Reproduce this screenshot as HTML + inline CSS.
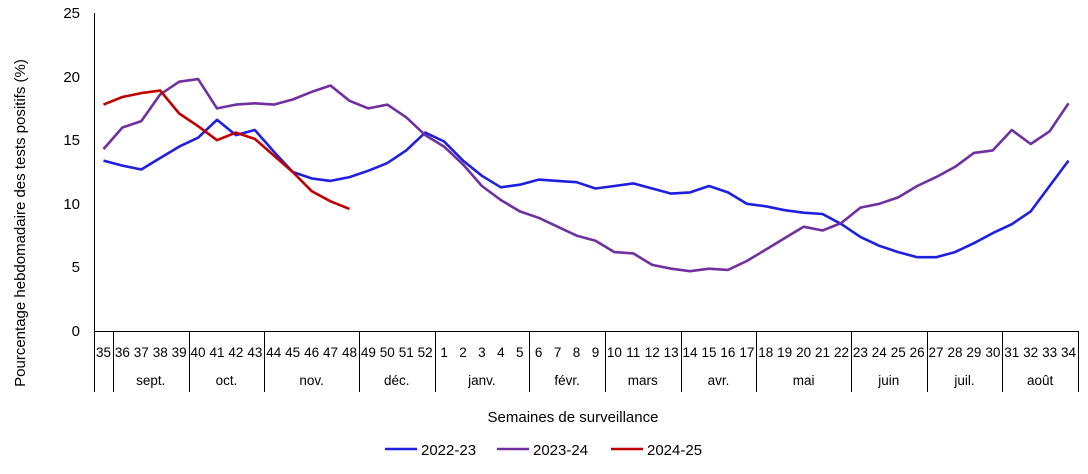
<!DOCTYPE html>
<html><head><meta charset="utf-8"><style>
body{margin:0;background:#fff;}
svg text{font-family:"Liberation Sans",sans-serif;fill:#000;}
</style></head><body>
<svg id="s" width="1088" height="469" xmlns="http://www.w3.org/2000/svg">
<line x1="94.5" y1="13" x2="94.5" y2="332" stroke="#000" stroke-width="1"/>
<line x1="94" y1="331.5" x2="1078" y2="331.5" stroke="#000" stroke-width="1"/>
<g font-size="15" text-anchor="end">
<text x="80" y="18">25</text><text x="80" y="82">20</text><text x="80" y="145">15</text>
<text x="80" y="209">10</text><text x="80" y="272">5</text><text x="80" y="336">0</text>
</g>
<g id="xl" font-size="13.5" text-anchor="middle"></g>
<g id="sep" stroke="#000" stroke-width="1"></g>
<g id="lines" fill="none" stroke-width="2.6" stroke-linejoin="round"></g>
<text x="573" y="422" font-size="15" text-anchor="middle">Semaines de surveillance</text>
<text transform="translate(25,223) rotate(-90)" font-size="15" text-anchor="middle">Pourcentage hebdomadaire des tests positifs (%)</text>
<line x1="385" y1="449" x2="417" y2="449" stroke="#1f1fe0" stroke-width="2.6"/>
<text x="421" y="455" font-size="15">2022-23</text>
<line x1="497" y1="449" x2="529" y2="449" stroke="#7030a0" stroke-width="2.6"/>
<text x="533" y="455" font-size="15">2023-24</text>
<line x1="611" y1="449" x2="643" y2="449" stroke="#c00000" stroke-width="2.6"/>
<text x="647" y="455" font-size="15">2024-25</text>
</svg>
<script>
var NS="http://www.w3.org/2000/svg",w=(1078-94)/52;
function X(i){return 94+w*(i+0.5);}
function Y(v){return 331-v*12.72;}
var weeks=[];for(var k=35;k<=52;k++)weeks.push(k);for(k=1;k<=34;k++)weeks.push(k);
var xl=document.getElementById("xl");
weeks.forEach(function(wk,i){var t=document.createElementNS(NS,"text");t.setAttribute("x",X(i));t.setAttribute("y",357);t.textContent=wk;xl.appendChild(t);});
var b=[0,1,5,9,14,18,23,27,31,35,40,44,48,52],m=["","sept.","oct.","nov.","déc.","janv.","févr.","mars","avr.","mai","juin","juil.","août"];
var sep=document.getElementById("sep");
b.forEach(function(j,n){var x=Math.round(94+w*j)+0.5;var l=document.createElementNS(NS,"line");l.setAttribute("x1",x);l.setAttribute("x2",x);l.setAttribute("y1",331);l.setAttribute("y2",392);sep.appendChild(l);
if(n>0&&m[n-1]!==undefined&&n-1>0){}
});
for(var n=1;n<b.length-1;n++){var t=document.createElementNS(NS,"text");t.setAttribute("x",94+w*(b[n]+b[n+1])/2);t.setAttribute("y",385);t.textContent=m[n];xl.appendChild(t);}
var d={
"#1f1fe0":[13.4,13.0,12.7,13.6,14.5,15.2,16.6,15.4,15.8,14.1,12.5,12.0,11.8,12.1,12.6,13.2,14.2,15.6,14.9,13.4,12.2,11.3,11.5,11.9,11.8,11.7,11.2,11.4,11.6,11.2,10.8,10.9,11.4,10.9,10.0,9.8,9.5,9.3,9.2,8.4,7.4,6.7,6.2,5.8,5.8,6.2,6.9,7.7,8.4,9.4,11.4,13.4],
"#7030a0":[14.3,16.0,16.5,18.6,19.6,19.8,17.5,17.8,17.9,17.8,18.2,18.8,19.3,18.1,17.5,17.8,16.8,15.4,14.5,13.1,11.4,10.3,9.4,8.9,8.2,7.5,7.1,6.2,6.1,5.2,4.9,4.7,4.9,4.8,5.5,6.4,7.3,8.2,7.9,8.5,9.7,10.0,10.5,11.4,12.1,12.9,14.0,14.2,15.8,14.7,15.7,17.9],
"#c00000":[17.8,18.4,18.7,18.9,17.1,16.1,15.0,15.6,15.1,13.8,12.5,11.0,10.2,9.6]};
var g=document.getElementById("lines");
for(var c in d){var p=document.createElementNS(NS,"polyline");p.setAttribute("stroke",c);p.setAttribute("points",d[c].map(function(v,i){return X(i).toFixed(1)+","+Y(v).toFixed(1);}).join(" "));g.appendChild(p);}
</script>
</body></html>
